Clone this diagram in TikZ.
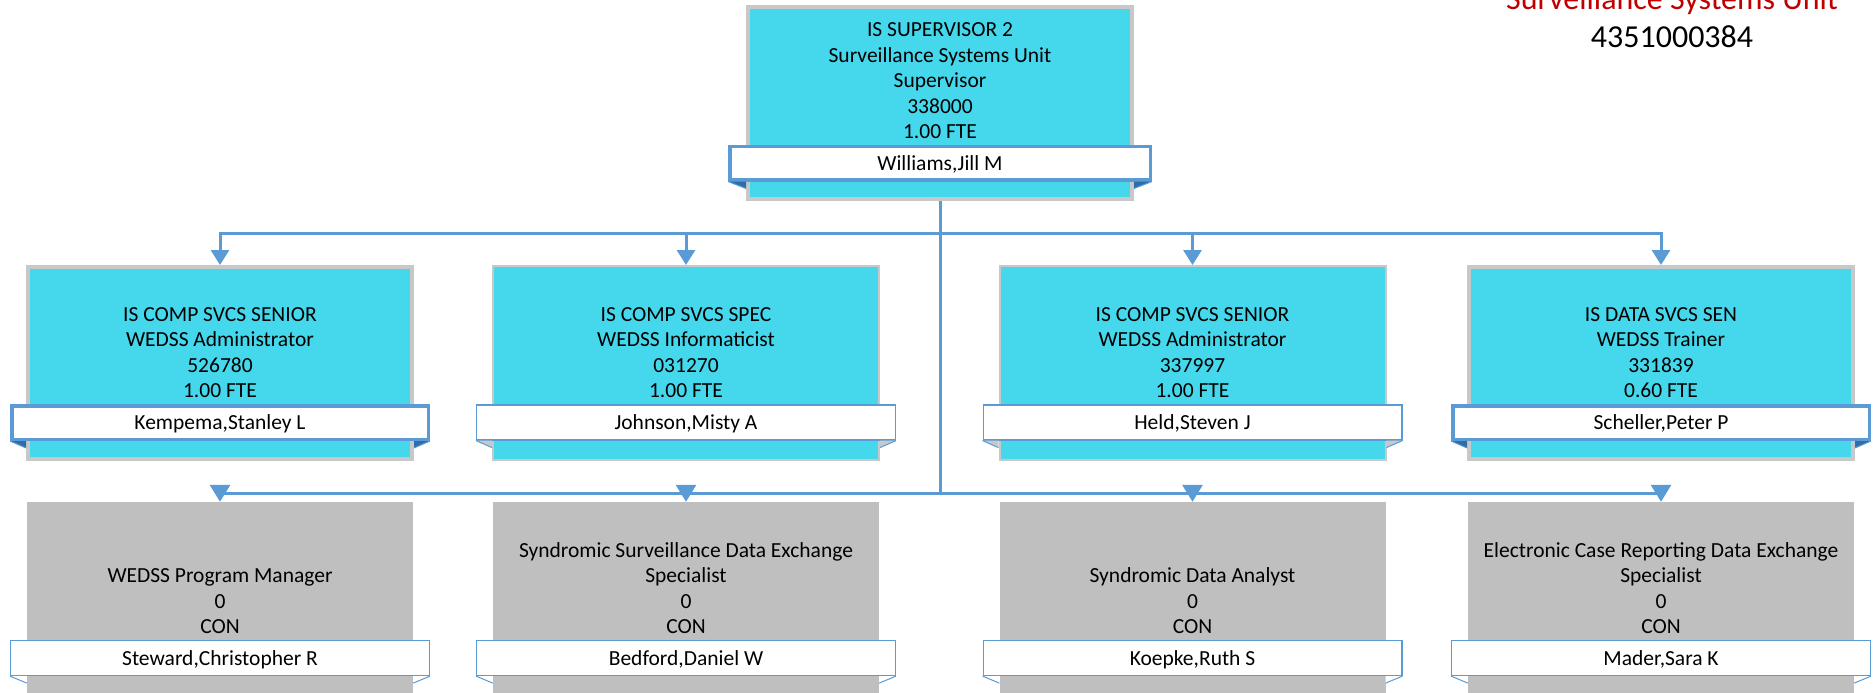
\documentclass[tikz,border=0pt]{standalone}
\usepackage{fontspec}
\setmainfont{Carlito}
\usetikzlibrary{arrows.meta,calc}
\definecolor{cyanfill}{HTML}{45D8EC}
\definecolor{framegrey}{HTML}{C8C8C8}
\definecolor{linkblue}{HTML}{5B9BD5}
\definecolor{folddark}{HTML}{2E6DA8}
\definecolor{confill}{HTML}{BFBFBF}
\definecolor{titlered}{HTML}{C00000}
\begin{document}
\begin{tikzpicture}[x=1pt,y=-1pt,
  boxfont/.style={font=\fontsize{21.5}{25.5}\selectfont},
  posbox/.style={fill=cyanfill, draw=framegrey, line width=4pt, minimum width=384pt, minimum height=192pt, inner sep=0pt},
  posboxthin/.style={posbox, line width=2pt, minimum width=386pt, minimum height=194pt},
  conbox/.style={fill=confill, draw=none, minimum width=386pt, minimum height=200pt, inner sep=0pt},
  boxtext/.style={boxfont, align=center, anchor=south, text depth=0pt, inner sep=0pt},
  namebar/.style={boxfont, fill=white, draw=linkblue, line width=3.5pt, inner sep=0pt, text height=14.5pt, text depth=0pt, minimum width=416.5pt, minimum height=33.5pt},
  namebarthin/.style={namebar, line width=1.2pt, minimum width=418.8pt, minimum height=35pt},
  folddarkst/.style={fill=folddark},
  foldgreyst/.style={fill=framegrey},
  foldwhitest/.style={fill=white},
  foldedge/.style={draw=linkblue, line width=1pt},
  link/.style={draw=linkblue, line width=3pt},
  toparrow/.style={link, -{Triangle[width=18pt,length=15pt]}},
  botarrow/.style={link, -{Triangle[width=20pt,length=17pt]}},
  unitfont/.style={font=\fontsize{32}{38}\selectfont, anchor=base, inner sep=0pt}
]
\useasboundingbox (0,0) rectangle (1873,693);
\clip (0,0) rectangle (1873,693);

% header text
\node[unitfont, text=titlered] (unit) at (1672,10) {Surveillance Systems Unit};
\node[unitfont] (code) at (1672,48) {4351000384};

% top box
\node[posbox] (top) at (940,103) {};
\node[boxtext] (ttop) at (940,139) {IS SUPERVISOR 2\\Surveillance Systems Unit\\Supervisor\\338000\\1.00 FTE};
\node[namebar, minimum width=420.5pt] (ntop) at (940,163) {Williams,Jill M};

% middle row
\node[posbox] (m1) at (220,363) {};
\node[posboxthin] (m2) at (686,363) {};
\node[posboxthin] (m3) at (1192.5,363) {};
\node[posbox] (m4) at (1661,363) {};
\node[boxtext] (t1) at (220,398) {IS COMP SVCS SENIOR\\WEDSS Administrator\\526780\\1.00 FTE};
\node[boxtext] (t2) at (686,398) {IS COMP SVCS SPEC\\WEDSS Informaticist\\031270\\1.00 FTE};
\node[boxtext] (t3) at (1192.5,398) {IS COMP SVCS SENIOR\\WEDSS Administrator\\337997\\1.00 FTE};
\node[boxtext] (t4) at (1661,398) {IS DATA SVCS SEN\\WEDSS Trainer\\331839\\0.60 FTE};
\node[namebar] (n1) at (220,422.5) {Kempema,Stanley L};
\node[namebarthin] (n2) at (686,422.5) {Johnson,Misty A};
\node[namebarthin] (n3) at (1192.5,422.5) {Held,Steven J};
\node[namebar] (n4) at (1661,422.5) {Scheller,Peter P};

% bottom row
\node[conbox] (b1) at (220,602) {};
\node[conbox] (b2) at (686,602) {};
\node[conbox] (b3) at (1192.5,602) {};
\node[conbox] (b4) at (1661,602) {};
\node[boxtext] (s1) at (220,634) {WEDSS Program Manager\\0\\CON};
\node[boxtext] (s2) at (686,634) {Syndromic Surveillance Data Exchange\\Specialist\\0\\CON};
\node[boxtext] (s3) at (1192.5,634) {Syndromic Data Analyst\\0\\CON};
\node[boxtext] (s4) at (1661,634) {Electronic Case Reporting Data Exchange\\Specialist\\0\\CON};
\node[namebarthin] (p1) at (220,658) {Steward,Christopher R};
\node[namebarthin] (p2) at (686,658) {Bedford,Daniel W};
\node[namebarthin] (p3) at (1192.5,658) {Koepke,Ruth S};
\node[namebarthin] (p4) at (1661,658) {Mader,Sara K};

% folds under the name bars
\foreach \nb/\bx/\st in {ntop/top/folddarkst, n1/m1/folddarkst, n2/m2/foldgreyst, n3/m3/foldgreyst, n4/m4/folddarkst, p1/b1/foldwhitest, p2/b2/foldwhitest, p3/b3/foldwhitest, p4/b4/foldwhitest}{
  \fill[\st] (\nb.south west) -- (\nb.south west -| \bx.west) -- ($(\nb.south west -| \bx.west)+(0,7)$) -- cycle;
  \fill[\st] (\nb.south east) -- (\nb.south east -| \bx.east) -- ($(\nb.south east -| \bx.east)+(0,7)$) -- cycle;
  \draw[foldedge] (\nb.south west) -- ($(\nb.south west -| \bx.west)+(0,7)$);
  \draw[foldedge] (\nb.south east) -- ($(\nb.south east -| \bx.east)+(0,7)$);
}

% connectors
\coordinate (jt) at (940,233);
\coordinate (jb) at (940,493);
\draw[link] (top.south) -- (jb);
\foreach \m in {m1,m2,m3,m4}{\draw[toparrow] (jt) -| (\m.north);}
\foreach \m in {b1,b2,b3,b4}{\draw[botarrow] (jb) -| (\m.north);}
\end{tikzpicture}
\end{document}
